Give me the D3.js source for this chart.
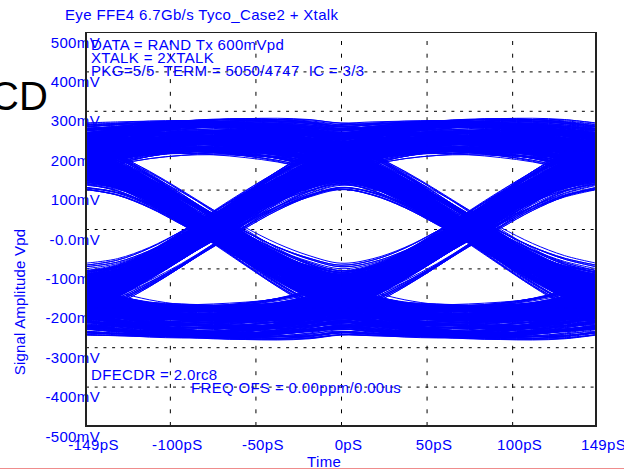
<!DOCTYPE html>
<html><head><meta charset="utf-8">
<script src="https://cdn.jsdelivr.net/npm/d3@7"></script>
<style>
html,body{margin:0;padding:0;background:#fff;overflow:hidden}
svg{display:block;font-family:"Liberation Sans",Arial,sans-serif}
</style></head><body>
<svg id="chart" width="624" height="469"></svg>
<script>
// ---- chart data ----
const title = "Eye FFE4 6.7Gb/s Tyco_Case2 + Xtalk";
const xTickValues = [-149, -100, -50, 0, 50, 100, 149];
const xTickLabels = ["-149pS", "-100pS", "-50pS", "0pS", "50pS", "100pS", "149pS"];
const yTickValues = [500, 400, 300, 200, 100, 0, -100, -200, -300, -400, -500];
const yTickLabels = ["500mV", "400mV", "300mV", "200mV", "100mV", "-0.0mV", "-100mV", "-200mV", "-300mV", "-400mV", "-500mV"];
const setupLines = ["DATA = RAND Tx 600mVpd", "XTALK = 2XTALK", "PKG=5/5  TERM = 5050/4747  IC = 3/3"];
const rxLines = ["DFECDR = 2.0rc8", "FREQ OFS = 0.00ppm/0.00us"];

const unitInterval = 149.25;   // ps per bit at 6.7 Gb/s
const samplesPerUI = 8;

// victim lane bit stream
const victimBits = ["1101001110","0010111010","1100100011","1101010010","0111111100","1011001011","1000110101","0011100101",
  "1000000011","0101101110","0110010100","1110001011","0111111110","1001011000","1101110010","0101001101",
  "1100010110","1000000001","0010011101","1011000101","0111001010","1111110000","1001010111","0110100011",
  "1010001101","0000001111","1101000110","0101110101","1000111001","0111111011","1000000010","0101101011"].join("");
// two aggressor lanes
const aggressorBitsA = ["0110101100","1011100101","0100011011","1001011100","1010001110","0110100101","1101010011","1000101101",
  "0011110010","1010010111","0101101000","1101011001","0111000101","1011010011","0010111010","1100101100",
  "0110001101","1101100100","1010110011","0001011110","1001101010","0111010001","1010011011","0100101110",
  "1101101000","1000110110","0111011001","1001000111","0101101100","1110010100","0011101101","1010100110"].join("");
const aggressorBitsB = ["1001110100","0110101011","1010010011","0101101000","1100111010","0101010110","0011101001","1110010100",
  "1011001101","0100110011","1010101100","0110010111","1101001000","0101110110","1001100101","0011011011",
  "1100100110","0010111001","0110100101","1011011000","0100110111","1010001101","0101110010","1001011101",
  "0011000110","1110101001","0100111010","1011010010","0110001111","0101100101","1100110100","1001010011"].join("");
// bit offsets of the aggressor streams for each simulated pass
const passOffsets = [0, 83, 157, 229];

// equalized single-bit response (mV) from the cursor outwards, UI/8 steps, symmetric
const pulseResponse = [180, 175, 161, 140, 116, 90, 64, 40,
  21, 16, 14.5, 14.5, 14, 13, 12, 10.5,
  9.5, 8.5, 7.5, 7, 6.5, 6, 5.3, 4.8,
  4.5, 4, 3.5, 3, 2.5, 2.3, 2.1, 2,
  2, 1.7, 1.4, 1.2, 1, 0.8, 0.7, 0.6,
  0.5, 0.4, 0.3, 0.2, 0.15, 0.1, 0.05, 0];
// far-end crosstalk response per aggressor bit (mV), -1 UI to +1 UI in UI/8 steps
const xtalkResponse = [0, 1.2, 3, 5, 6.5, 5.2, 3.2, 1.2, 0, -1.2, -3.2, -5.2, -6.5, -5, -3, -1.2, 0];
const xtalkSkew = [3, -4];     // aggressor timing skew in UI/8 steps

// ---- layout ----
const plot = {left: 86, right: 596, top: 32, bottom: 426};
const blue = "#0000ff";
const svg = d3.select("#chart");
const x = d3.scaleLinear().domain([-149, 149]).range([plot.left, plot.right]);
const y = d3.scaleLinear().domain([-500, 500]).range([plot.bottom, plot.top]);

svg.append("text").attr("x", -10).attr("y", 110).attr("font-size", 40).attr("fill", "#000").text("CD");

// axes with dashed grid
const yAxis = svg.append("g").attr("transform", `translate(${plot.left},0)`)
  .call(d3.axisLeft(y).tickValues(yTickValues).tickSize(-(plot.right - plot.left)).tickFormat((d, i) => yTickLabels[i]));
const xAxis = svg.append("g").attr("transform", `translate(0,${plot.bottom})`)
  .call(d3.axisBottom(x).tickValues(xTickValues).tickSize(-(plot.bottom - plot.top)).tickFormat((d, i) => xTickLabels[i]));
[yAxis, xAxis].forEach(g => {
  g.attr("font-family", null).attr("font-size", null);
  g.select(".domain").remove();
  g.selectAll("text").attr("fill", blue).attr("font-size", 15).attr("letter-spacing", 0.35).attr("dy", null);
});
yAxis.selectAll(".tick line").attr("stroke", "#000").attr("stroke-dasharray", "3,5.7");
yAxis.selectAll(".tick text").attr("x", 14).attr("y", 15);
xAxis.selectAll(".tick line").attr("stroke", "#000").attr("stroke-dasharray", "4,8.7");
xAxis.selectAll(".tick text").attr("x", 7).attr("y", 24);

// eye traces: superposition of the victim pulse response and the aggressor crosstalk
const signs = s => Array.from(s).map(c => (c === "1" ? 1 : -1));
const vb = signs(victimBits);
const aggressors = [signs(aggressorBitsA), signs(aggressorBitsB)];
const P = i => { const a = Math.abs(i); return a < pulseResponse.length ? pulseResponse[a] : 0; };
const Q = i => (i >= -8 && i <= 8 ? xtalkResponse[i + 8] : 0);
const S = samplesPerUI;
const span = Math.ceil(pulseResponse.length / S) + 1;
const traces = [];
passOffsets.forEach(shift => {
  const aggAt = (bits, m) => bits[(m + shift) % bits.length];
  for (let k = span; k < vb.length - span; k++) {
    const pts = [];
    for (let j = -S; j <= S; j++) {
      let v = 0;
      for (let m = k - span; m <= k + span; m++) {
        const off = j - S * (m - k);
        v += vb[m] * P(off);
        aggressors.forEach((bits, n) => { v += aggAt(bits, m) * Q(off - xtalkSkew[n]); });
      }
      pts.push([j * unitInterval / S, v]);
    }
    traces.push(pts);
  }
});

svg.append("clipPath").attr("id", "plotClip").append("rect")
  .attr("x", plot.left).attr("y", plot.top).attr("width", plot.right - plot.left).attr("height", plot.bottom - plot.top);
const line = d3.line().x(d => x(d[0])).y(d => y(d[1])).curve(d3.curveCatmullRom.alpha(0.5));
svg.append("g").attr("clip-path", "url(#plotClip)")
  .selectAll("path").data(traces).join("path")
  .attr("d", line).attr("fill", "none").attr("stroke", blue).attr("stroke-width", 1);

// frame
const frame = svg.append("g").attr("stroke", "#222");
frame.append("line").attr("x1", plot.left).attr("x2", plot.right).attr("y1", plot.top + 0.5).attr("y2", plot.top + 0.5).attr("stroke-width", 1);
frame.append("line").attr("x1", plot.left).attr("x2", plot.left).attr("y1", plot.top).attr("y2", plot.bottom + 1).attr("stroke-width", 2);
frame.append("line").attr("x1", plot.right).attr("x2", plot.right).attr("y1", plot.top).attr("y2", plot.bottom + 1).attr("stroke-width", 2);
frame.append("line").attr("x1", plot.left).attr("x2", plot.right + 1).attr("y1", plot.bottom).attr("y2", plot.bottom).attr("stroke-width", 2);

// texts
const txt = (s, px, py) => svg.append("text").attr("x", px).attr("y", py).attr("fill", blue)
  .attr("font-size", 15).attr("letter-spacing", 0.35).style("white-space", "pre").text(s);
txt(title, 65, 20);
setupLines.forEach((s, i) => txt(s, 91, 50 + i * 13));
txt(rxLines[0], 91, 380);
txt(rxLines[1], 191, 393);
txt("Time", 307, 467);
svg.append("text").attr("transform", "translate(25,302) rotate(-90)").attr("text-anchor", "middle")
  .attr("fill", blue).attr("font-size", 15).attr("letter-spacing", 0.2).text("Signal Amplitude Vpd");

svg.append("line").attr("x1", 0).attr("x2", 624).attr("y1", 468.5).attr("y2", 468.5).attr("stroke", "#f08c8c");
</script>
</body></html>
